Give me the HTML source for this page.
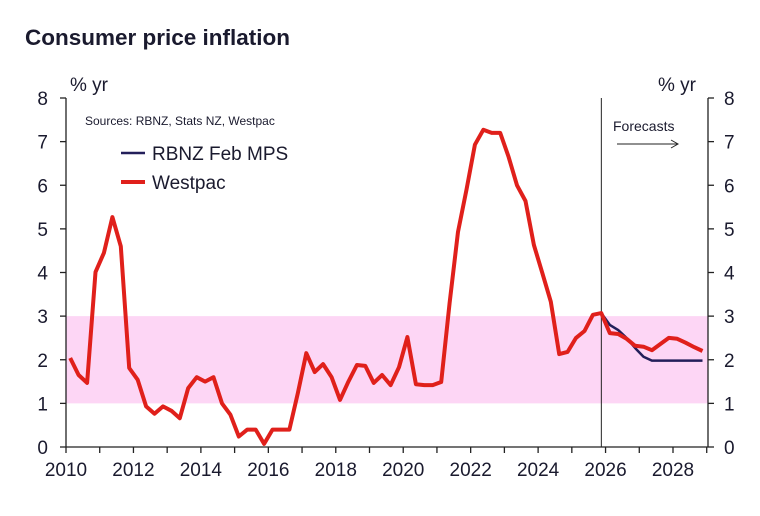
<!DOCTYPE html>
<html><head><meta charset="utf-8"><style>
body{margin:0;background:#fff;}
svg text{font-family:"Liberation Sans",Arial,sans-serif;fill:#1a1a2e;}
</style></head><body>
<svg id="chart" width="760" height="511" viewBox="0 0 760 511">
<text x="25" y="45" font-size="22.5" font-weight="bold">Consumer price inflation</text>
<g id="band"></g>
<g id="axes"></g>
<g id="series"></g>
<text x="70" y="91" font-size="19">% yr</text>
<text x="658" y="91" font-size="19">% yr</text>
<text x="85" y="125" font-size="12">Sources: RBNZ, Stats NZ, Westpac</text>
<line x1="121" y1="153" x2="145" y2="153" stroke="#231f5a" stroke-width="2.5"/>
<text x="152" y="160" font-size="19">RBNZ Feb MPS</text>
<line x1="121" y1="182" x2="145" y2="182" stroke="#e0201b" stroke-width="4"/>
<text x="152" y="189" font-size="19">Westpac</text>
<text x="613" y="131" font-size="14">Forecasts</text>
<line x1="617" y1="144" x2="678" y2="144" stroke="#222" stroke-width="1"/>
<polyline points="671,140 678,144 671,148" fill="none" stroke="#222" stroke-width="1"/>
</svg>
<script>
const westpacValues=[2.04,1.65,1.47,4.01,4.45,5.27,4.6,1.81,1.54,0.93,0.76,0.93,0.83,0.66,1.35,1.6,1.5,1.6,1.0,0.74,0.24,0.4,0.4,0.07,0.4,0.4,0.4,1.23,2.15,1.72,1.9,1.6,1.08,1.5,1.88,1.86,1.47,1.65,1.42,1.83,2.52,1.44,1.42,1.42,1.49,3.3,4.93,5.9,6.93,7.27,7.2,7.2,6.65,6.0,5.64,4.63,3.99,3.33,2.13,2.18,2.5,2.66,3.03,3.07,2.61,2.59,2.48,2.32,2.3,2.22,2.36,2.5,2.48,2.39,2.29,2.2];
const rbnzValues=[3.07,2.8,2.68,2.5,2.27,2.07,1.98,1.98,1.98,1.98,1.98,1.98,1.98];
const rbnzStartIndex=63;
const yTicks=[0,1,2,3,4,5,6,7,8];
const xTickLabels=[2010,2012,2014,2016,2018,2020,2022,2024,2026,2028];
const bandRange=[1,3];
const forecastStart=2025.875;
const firstDate=2010.125;

const NS="http://www.w3.org/2000/svg";
const X0=66,X1=708,Y0=447,Y1=98;
const xs=t=>X0+(t-2010)*(673-66)/18;
const ys=v=>Y0-(v/8)*(Y0-Y1);
function mk(tag,attrs,parent,text){const e=document.createElementNS(NS,tag);for(const k in attrs)e.setAttribute(k,attrs[k]);if(text!==undefined)e.textContent=text;document.getElementById(parent).appendChild(e);return e;}

let b=mk('rect',{x:X0,y:ys(bandRange[1]),width:X1-X0,height:ys(bandRange[0])-ys(bandRange[1]),fill:'#fdd6f5'},'band');



let a=mk('line',{x1:X0,y1:Y1,x2:X0,y2:Y0,stroke:'#222','stroke-width':1.3},'axes');


a=mk('line',{x1:X1,y1:Y1,x2:X1,y2:Y0,stroke:'#222','stroke-width':1.3},'axes');


a=mk('line',{x1:X0,y1:Y0,x2:X1,y2:Y0,stroke:'#222','stroke-width':1.3},'axes');


const fx=xs(forecastStart);
a=mk('line',{x1:fx,y1:Y1,x2:fx,y2:Y0,stroke:'#222','stroke-width':1},'axes');



yTicks.forEach(v=>{
  const y=ys(v);
  mk('line',{x1:X0-6,y1:y,x2:X0,y2:y,stroke:'#222','stroke-width':1.3},'axes');
  mk('line',{x1:X1,y1:y,x2:X1+6,y2:y,stroke:'#222','stroke-width':1.3},'axes');
  let t=mk('text',{x:48,y:y+7,'font-size':19,'text-anchor':'end'},'axes',String(v));
  
  
  t=mk('text',{x:724,y:y+7,'font-size':19},'axes',String(v));
  
  
});
for(let yr=2010;yr<=2029;yr++){
  mk('line',{x1:xs(yr),y1:Y0,x2:xs(yr),y2:Y0+6,stroke:'#222','stroke-width':1.3},'axes');
}
xTickLabels.forEach(yr=>{
  const t=mk('text',{x:xs(yr),y:476,'font-size':19,'text-anchor':'middle'},'axes',String(yr));
  
  
});

const pts=(vals,start)=>vals.map((v,i)=>xs(firstDate+0.25*(start+i)).toFixed(1)+','+ys(v).toFixed(1)).join(' ');
let w=mk('polyline',{points:pts(westpacValues,0),fill:'none',stroke:'#e0201b','stroke-width':4,'stroke-linejoin':'round'},'series');


let r=mk('polyline',{points:pts(rbnzValues,rbnzStartIndex),fill:'none',stroke:'#231f5a','stroke-width':2.5,'stroke-linejoin':'round'},'series');


document.getElementById('series').insertBefore(r,w);
</script>
</body></html>
